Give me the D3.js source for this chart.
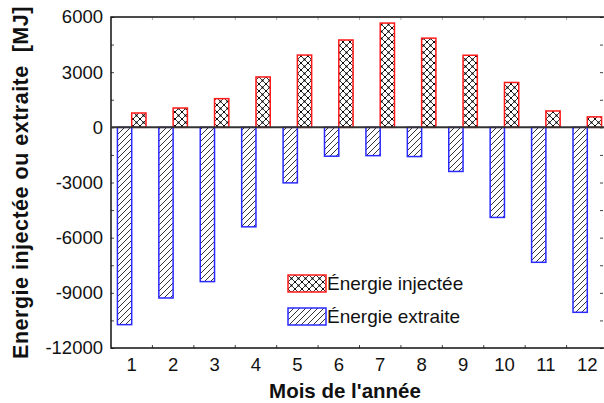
<!DOCTYPE html>
<html lang="fr">
  <head>
    <meta charset="UTF-8" />
    <title>Energie injectée ou extraite</title>
    <script src="https://d3js.org/d3.v7.min.js"></script>
    <style>
      body { margin: 0; background: #fff; }
      text { font-family: "Liberation Sans", Arial, sans-serif; }
    </style>
  </head>
  <body>
    <div id="chart"></div>
    <script>
      // données
      const months = ["1", "2", "3", "4", "5", "6", "7", "8", "9", "10", "11", "12"];
      const injected = [780, 1050, 1560, 2740, 3930, 4750, 5670, 4850, 3920, 2440, 890, 570];
      const extracted = [-10730, -9280, -8390, -5410, -3020, -1570, -1540, -1590, -2400, -4900, -7340, -10060];
      const yTicks = [6000, 3000, 0, -3000, -6000, -9000, -12000];
      const yMinor = d3.range(-12000, 6001, 1500);

      const W = 604, H = 403;
      const mLeft = 111, mTop = 17, mBottom = 348, mRight = 608;
      const font = "'Liberation Sans', Arial, sans-serif";

      const svg = d3.select("#chart").append("svg")
        .attr("width", W).attr("height", H);

      const x = d3.scaleBand().domain(months).range([mLeft, mRight]).padding(0);
      const y = d3.scaleLinear().domain([-12000, 6000]).range([mBottom, mTop]);
      const bw = x.bandwidth() * 0.345;

      // motifs de hachures
      const defs = svg.append("defs");
      const cross = defs.append("pattern")
        .attr("id", "cross").attr("patternUnits", "userSpaceOnUse")
        .attr("width", 7).attr("height", 7);
      cross.append("rect").attr("width", 7).attr("height", 7).attr("fill", "#fff");
      cross.append("path").attr("d", "M0,0L7,7M7,0L0,7")
        .attr("stroke", "#000").attr("stroke-width", 0.8);
      [[3.5, 3.5], [0, 0], [7, 0], [0, 7], [7, 7]].forEach(p =>
        cross.append("circle").attr("cx", p[0]).attr("cy", p[1]).attr("r", 1).attr("fill", "#000"));

      const hatch = defs.append("pattern")
        .attr("id", "hatch").attr("patternUnits", "userSpaceOnUse")
        .attr("width", 6).attr("height", 6);
      hatch.append("rect").attr("width", 6).attr("height", 6).attr("fill", "#fff");
      hatch.append("path").attr("d", "M-1,7L7,-1M-4,4L4,-4M2,10L10,2")
        .attr("stroke", "#000").attr("stroke-width", 0.8);

      // axes
      const yAxis = svg.append("g")
        .attr("transform", `translate(${mLeft},0)`)
        .call(d3.axisLeft(y).tickValues(yMinor).tickSize(-3).tickPadding(8)
          .tickFormat(d => yTicks.includes(d) ? d : ""));
      yAxis.select(".domain").remove();
      yAxis.selectAll("line").attr("stroke", "#444");
      yAxis.selectAll("text").attr("font-size", 18.5).attr("fill", "#111")
        .style("font-family", font);

      const yRight = svg.append("g")
        .attr("transform", `translate(603,0)`)
        .call(d3.axisRight(y).tickValues(yMinor).tickSize(-3).tickFormat(""));
      yRight.select(".domain").remove();
      yRight.selectAll("line").attr("stroke", "#444");

      const xAxis = svg.append("g")
        .attr("transform", `translate(0,${mBottom})`)
        .call(d3.axisBottom(x).tickSize(0).tickPadding(10));
      xAxis.select(".domain").remove();
      xAxis.selectAll("text").attr("font-size", 18.5).attr("fill", "#111")
        .style("font-family", font);

      // petites graduations entre les mois
      svg.append("g").selectAll("line")
        .data(months.slice(1))
        .join("line")
        .attr("x1", d => x(d)).attr("x2", d => x(d))
        .attr("y1", mBottom).attr("y2", mBottom - 3)
        .attr("stroke", "#444");
      svg.append("g").selectAll("line")
        .data(months.slice(1))
        .join("line")
        .attr("x1", d => x(d)).attr("x2", d => x(d))
        .attr("y1", mTop).attr("y2", mTop + 3)
        .attr("stroke", "#aaa");

      // barres
      svg.append("g").selectAll("rect")
        .data(extracted)
        .join("rect")
        .attr("x", (d, i) => x(months[i]) + x.bandwidth() / 2 - bw)
        .attr("y", y(0))
        .attr("width", bw)
        .attr("height", d => y(d) - y(0))
        .attr("fill", "url(#hatch)")
        .attr("stroke", "#2a2aff").attr("stroke-width", 1.5);

      svg.append("g").selectAll("rect")
        .data(injected)
        .join("rect")
        .attr("x", (d, i) => x(months[i]) + x.bandwidth() / 2)
        .attr("y", d => y(d))
        .attr("width", bw)
        .attr("height", d => y(0) - y(d))
        .attr("fill", "url(#cross)")
        .attr("stroke", "#ff1a1a").attr("stroke-width", 1.5);

      // cadre et ligne zéro
      svg.append("path")
        .attr("d", `M${W},${mTop}H${mLeft}V${mBottom}H${W}`)
        .attr("fill", "none").attr("stroke", "#111").attr("stroke-width", 1.5);
      svg.append("line")
        .attr("x1", mLeft).attr("x2", W)
        .attr("y1", y(0)).attr("y2", y(0))
        .attr("stroke", "#333").attr("stroke-width", 2);

      // légende
      const legend = [
        { label: "Énergie injectée", fill: "url(#cross)", stroke: "#ff1a1a" },
        { label: "Énergie extraite", fill: "url(#hatch)", stroke: "#2a2aff" }
      ];
      const lg = svg.append("g").selectAll("g")
        .data(legend).join("g")
        .attr("transform", (d, i) => `translate(288,${275 + i * 33})`);
      lg.append("rect").attr("width", 38).attr("height", 17)
        .attr("fill", d => d.fill).attr("stroke", d => d.stroke).attr("stroke-width", 1.5);
      lg.append("text").attr("x", 39).attr("y", 15)
        .attr("font-size", 19).attr("fill", "#111").style("font-family", font)
        .text(d => d.label);

      // titres des axes
      svg.append("text")
        .attr("x", 345).attr("y", 398)
        .attr("text-anchor", "middle").style("font-family", font)
        .attr("font-size", 20.5).attr("font-weight", "bold").attr("fill", "#111")
        .text("Mois de l'année");
      svg.append("text")
        .attr("transform", `translate(28,${(10 + 355) / 2}) rotate(-90)`)
        .attr("text-anchor", "middle").style("font-family", font)
        .attr("font-size", 21.5).attr("font-weight", "bold").attr("fill", "#111")
        .attr("letter-spacing", 0.5)
        .attr("xml:space", "preserve")
        .text("Energie injectée ou extraite  [MJ]");
    </script>
  </body>
</html>
